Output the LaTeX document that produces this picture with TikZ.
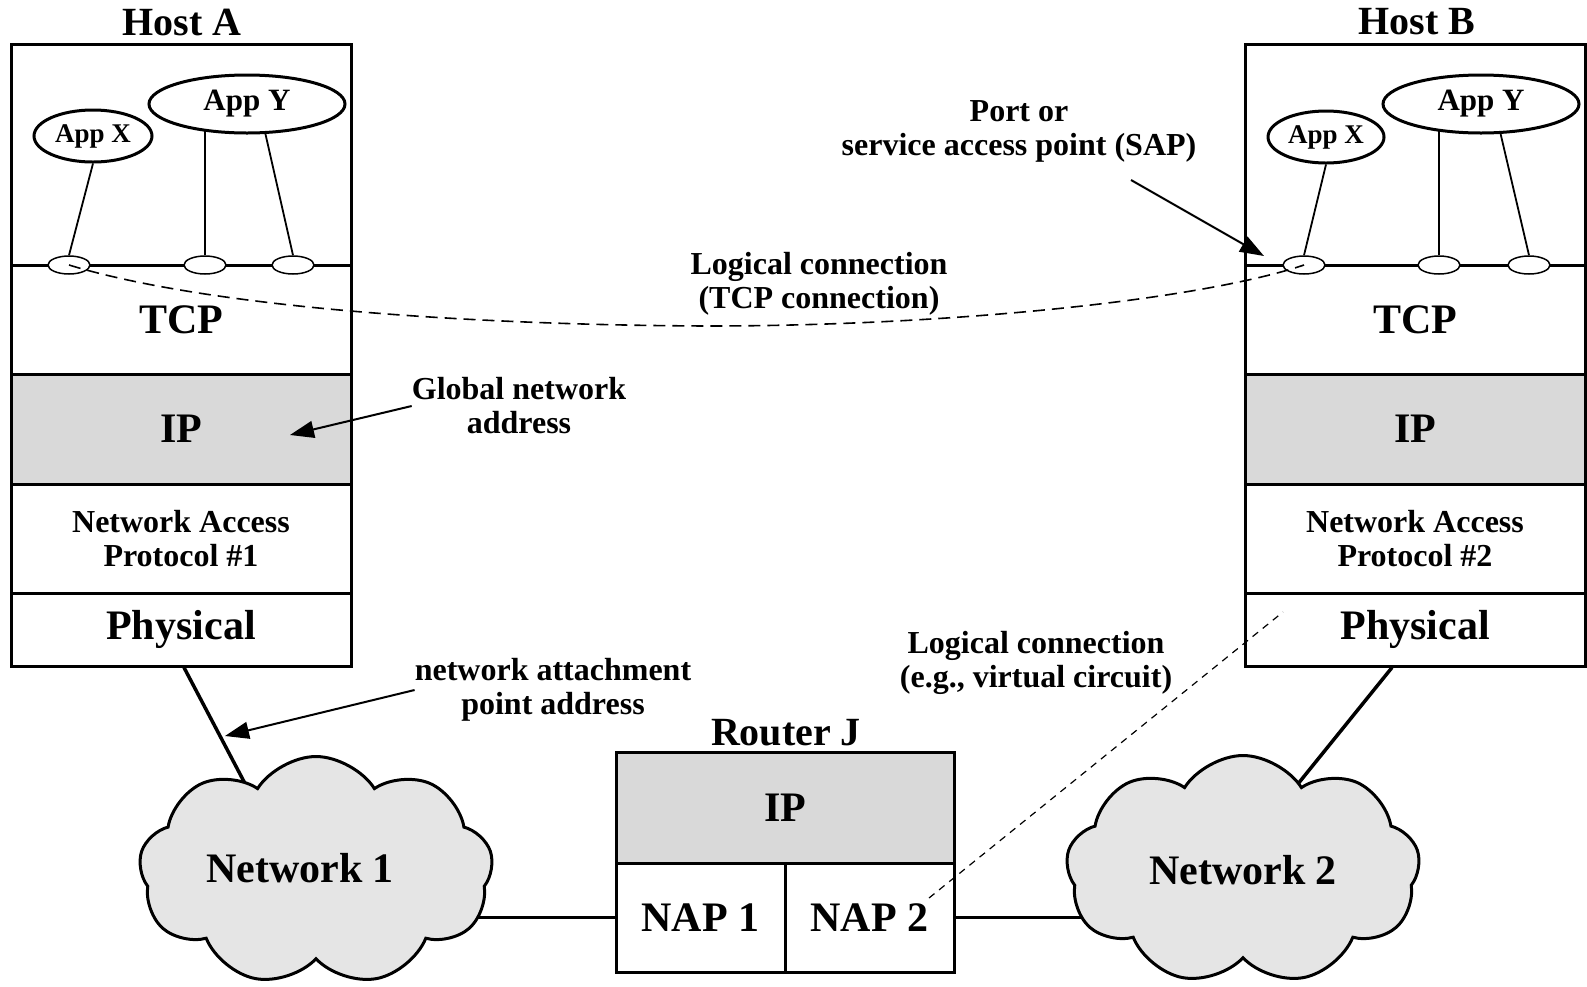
\documentclass[tikz,border=0pt]{standalone}
\usepackage{fontspec}
\setmainfont{Liberation Serif}
\usetikzlibrary{shapes.geometric,shapes.symbols,arrows.meta,backgrounds,calc}
\begin{document}
\begin{tikzpicture}[x=1pt,y=-1pt,
  big/.style={font=\bfseries\fontsize{42}{44}\selectfont},
  titletext/.style={font=\bfseries\fontsize{40}{42}\selectfont},
  labeltext/.style={font=\bfseries\fontsize{32}{34}\selectfont, align=center, inner sep=0pt},
  layer/.style={draw, line width=3pt, minimum width=340pt, inner sep=0pt, big},
  iplayer/.style={layer, fill=black!15},
  app/.style={ellipse, draw, line width=3pt, fill=white, inner sep=0pt},
  sap/.style={ellipse, draw, line width=1.5pt, fill=white, minimum width=42pt, minimum height=18pt, inner sep=0pt},
  appline/.style={line width=1.8pt},
  netline/.style={line width=3.5pt},
  ptr/.style={line width=2pt, -{Triangle[length=24pt,width=17pt]}},
  tcpdash/.style={line width=1.6pt, dash pattern=on 12pt off 7pt},
  vcdash/.style={line width=1.2pt, dash pattern=on 7pt off 6pt},
  netcloud/.style={cloud, cloud puffs=9, cloud puff arc=115, aspect=1.55, draw, line width=3pt, fill=black!10, minimum width=354pt, minimum height=229pt, inner sep=0pt, big},
  rbox/.style={draw, line width=3pt, inner sep=0pt, big}
]
\useasboundingbox (0,0) rectangle (1587,986);

% ---------- Host A ----------
\node[titletext] (hostA) at (182,22) {Host A};
\node[layer, minimum height=221pt] (appsA) at (181,154.5) {};
\node[layer, minimum height=109pt] (tcpA) at (181,319.5) {TCP};
\node[iplayer, minimum height=110pt] (ipA) at (181,429) {IP};
\node[layer, minimum height=109pt, labeltext, minimum width=340pt, inner sep=0pt] (napA) at (181,538.5) {Network Access\\Protocol \#1};
\node[layer, minimum height=73pt] (physA) at (181,629.5) {Physical};
\node[app, minimum width=118pt, minimum height=52pt, font=\bfseries\fontsize{27}{29}\selectfont] (appXA) at (93,136) {App X};
\node[app, minimum width=196pt, minimum height=58pt, font=\bfseries\fontsize{31}{33}\selectfont] (appYA) at (247,104) {App Y};
\node[sap] (sapA1) at (69,265) {};
\node[sap] (sapA2) at (205,265) {};
\node[sap] (sapA3) at (293,265) {};

% ---------- Host B ----------
\node[titletext] (hostB) at (1417,22) {Host B};
\node[layer, minimum height=221pt] (appsB) at (1415,154.5) {};
\node[layer, minimum height=109pt] (tcpB) at (1415,319.5) {TCP};
\node[iplayer, minimum height=110pt] (ipB) at (1415,429) {IP};
\node[layer, minimum height=109pt, labeltext, minimum width=340pt, inner sep=0pt] (napB) at (1415,538.5) {Network Access\\Protocol \#2};
\node[layer, minimum height=73pt] (physB) at (1415,629.5) {Physical};
\node[app, minimum width=116pt, minimum height=52pt, font=\bfseries\fontsize{27}{29}\selectfont] (appXB) at (1326,137) {App X};
\node[app, minimum width=196pt, minimum height=58pt, font=\bfseries\fontsize{31}{33}\selectfont] (appYB) at (1481,104) {App Y};
\node[sap] (sapB1) at (1304,265) {};
\node[sap] (sapB2) at (1439,265) {};
\node[sap] (sapB3) at (1529,265) {};

% ---------- Router J ----------
\node[titletext] (routerJ) at (786,733) {Router J};
\node[rbox, fill=black!15, minimum width=338pt, minimum height=111pt] (ipR) at (785,807.5) {IP};
\node[rbox, minimum width=169pt, minimum height=109pt] (nap1) at (700.5,917.5) {NAP 1};
\node[rbox, minimum width=169pt, minimum height=109pt] (nap2) at (869.5,917.5) {NAP 2};

% ---------- Networks ----------
\node[netcloud] (net1) at (316,871) {};
\node[big] (net1txt) at (300,868) {Network 1};
\node[netcloud] (net2) at (1243,870) {Network 2};

% ---------- Labels ----------
\node[labeltext] (sapLbl) at (1019,131) {Port or\\service access point (SAP)};
\node[labeltext] (tcpLbl) at (819,284) {Logical connection\\(TCP connection)};
\node[labeltext] (gnaLbl) at (519,406) {Global network\\address};
\node[labeltext] (natLbl) at (553,690) {network attachment\\point address};
\node[labeltext] (vcLbl) at (1036,663) {Logical connection\\(e.g., virtual circuit)};

% ---------- Connectors behind nodes ----------
\begin{scope}[on background layer]
  \draw[appline] (appXA.south) -- (sapA1.north);
  \draw[appline] (sapA2.north) -- (sapA2.north |- appYA.center);
  \draw[appline] (sapA3.north) -- ($(appYA.center)+(13,6)$);
  \draw[appline] (appXB.south) -- (sapB1.north);
  \draw[appline] (sapB2.north) -- (sapB2.north |- appYB.center);
  \draw[appline] (sapB3.north) -- ($(appYB.center)+(14,6)$);
  \draw[netline] ($(physA.south)+(3,0)$) -- ($(net1.center)+(-66,-78)$);
  \draw[netline] ($(physB.south)+(-23,0)$) -- ($(net2.center)+(50,-80)$);
  \draw[netline] (nap1.west) -- (nap1.west -| net1.center);
  \draw[netline] (nap2.east) -- (nap2.east -| net2.center);
\end{scope}

% ---------- Logical connections ----------
\draw[tcpdash] (sapA1.center) .. controls (200,305) and (450,325) .. (708,326)
  .. controls (950,326) and (1200,300) .. (sapB1.center);
\coordinate (vcStart) at (929,898);
\coordinate (vcEnd) at (1283,612);
\draw[vcdash] (vcStart) -- (vcEnd);

% ---------- Pointer arrows ----------
\coordinate (sapFrom) at (1131,180);
\coordinate (sapTip) at (1264,256);
\draw[ptr] (sapFrom) -- (sapTip);
\coordinate (gnaTip) at (290,435);
\draw[ptr] (gnaLbl.west) -- (gnaTip);
\coordinate (natTip) at (225,736);
\draw[ptr] (natLbl.west) -- (natTip);
\end{tikzpicture}
\end{document}
